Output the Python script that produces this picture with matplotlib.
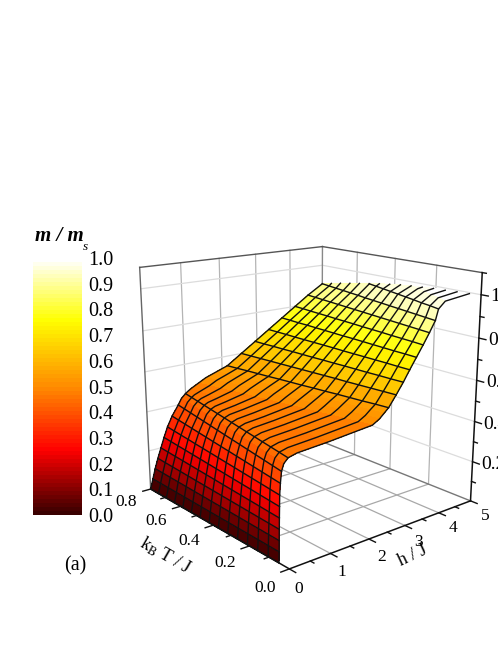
import numpy as np
import matplotlib
matplotlib.use('Agg')
import matplotlib.pyplot as plt
from matplotlib.colors import LinearSegmentedColormap

plt.rcParams['font.family'] = ['Liberation Serif', 'DejaVu Serif']
plt.rcParams['mathtext.fontset'] = 'stix'

# reduced temperature of every curve on the surface
temps = [0.05, 0.104, 0.157, 0.211, 0.264, 0.318, 0.371, 0.425, 0.479, 0.532, 0.586, 0.639, 0.693, 0.746, 0.8]
# m / m_s reached where a curve meets h = 5
m_top = [0.995, 0.993, 0.99, 0.988, 0.984, 0.98, 0.975, 0.968, 0.96, 0.951, 0.942, 0.933, 0.923, 0.912, 0.90]
# m / m_s levels of the table columns
m_levels = [0.0, 0.05, 0.1, 0.15, 0.2, 0.25, 0.3, 0.35, 0.4, 0.43, 0.45, 0.46, 0.47, 0.49, 0.51, 0.53,
            0.55, 0.6, 0.65, 0.7, 0.75, 0.8, 0.85, 0.9, 0.95, 0.98, 1.0]
# h / J where each temperature (row) reaches each level (column)
h_table = [
    [0, .004, .009, .014, .019, .025, .031, .049, .078, .131, .231, .442, 1.2, 2.33, 2.52, 2.64, 2.76, 2.96, 3.15, 3.32, 3.50, 3.68, 3.85, 4.01, 4.09, 4.28, 5],
    [0, .009, .018, .029, .04, .052, .065, .091, .13, .185, .287, .487, 1.19, 2.26, 2.45, 2.58, 2.72, 2.93, 3.13, 3.32, 3.52, 3.72, 3.90, 4.08, 4.20, 4.43, 5],
    [0, .014, .027, .043, .061, .078, .098, .132, .181, .239, .341, .531, 1.19, 2.19, 2.38, 2.53, 2.67, 2.90, 3.12, 3.33, 3.53, 3.75, 3.95, 4.15, 4.29, 4.57, 5],
    [0, .018, .037, .058, .082, .106, .132, .174, .233, .294, .396, .577, 1.19, 2.12, 2.31, 2.47, 2.63, 2.87, 3.10, 3.33, 3.55, 3.78, 4.0, 4.22, 4.40, 4.71, 5],
    [0, .023, .046, .073, .102, .132, .165, .215, .284, .347, .451, .621, 1.18, 2.05, 2.24, 2.41, 2.59, 2.84, 3.09, 3.33, 3.57, 3.82, 4.05, 4.29, 4.50, 4.86, 5],
    [0, .028, .056, .087, .123, .159, .199, .256, .336, .402, .506, .666, 1.18, 1.98, 2.17, 2.36, 2.54, 2.82, 3.08, 3.33, 3.59, 3.85, 4.10, 4.36, 4.60, 5, 5],
    [0, .032, .065, .102, .144, .186, .232, .298, .387, .456, .56, .711, 1.18, 1.91, 2.10, 2.30, 2.50, 2.79, 3.06, 3.33, 3.61, 3.88, 4.15, 4.43, 4.70, 5, 5],
    [0, .037, .074, .117, .165, .212, .266, .339, .439, .51, .615, .756, 1.17, 1.84, 2.03, 2.24, 2.45, 2.76, 3.05, 3.34, 3.62, 3.92, 4.20, 4.50, 4.80, 5, 5],
    [0, .042, .084, .132, .186, .24, .30, .381, .491, .565, .671, .801, 1.17, 1.77, 1.96, 2.19, 2.41, 2.73, 3.03, 3.34, 3.64, 3.95, 4.25, 4.57, 4.90, 5, 5],
    [0, .047, .093, .146, .206, .266, .333, .422, .542, .619, .725, .846, 1.17, 1.70, 1.90, 2.13, 2.37, 2.70, 3.02, 3.34, 3.66, 3.98, 4.30, 4.65, 5, 5, 5],
    [0, .051, .103, .161, .227, .293, .366, .464, .594, .673, .781, .891, 1.16, 1.63, 1.83, 2.07, 2.32, 2.67, 3.01, 3.34, 3.68, 4.02, 4.35, 4.72, 5, 5, 5],
    [0, .056, .112, .176, .248, .32, .40, .505, .645, .727, .835, .935, 1.16, 1.56, 1.76, 2.02, 2.28, 2.64, 2.99, 3.34, 3.70, 4.05, 4.40, 4.79, 5, 5, 5],
    [0, .061, .121, .191, .268, .346, .433, .547, .697, .781, .89, .98, 1.16, 1.49, 1.69, 1.96, 2.24, 2.61, 2.98, 3.35, 3.71, 4.08, 4.45, 4.86, 5, 5, 5],
    [0, .065, .131, .205, .289, .373, .466, .588, .748, .835, .945, 1.02, 1.15, 1.42, 1.62, 1.91, 2.19, 2.58, 2.96, 3.35, 3.73, 4.12, 4.50, 4.93, 5, 5, 5],
    [0, .07, .14, .22, .31, .4, .5, .63, .8, .89, 1.0, 1.07, 1.15, 1.35, 1.55, 1.85, 2.15, 2.55, 2.95, 3.35, 3.75, 4.15, 4.55, 5, 5, 5, 5],
]

h_ticks = [0, 1, 2, 3, 4, 5]
T_ticks = [0.0, 0.2, 0.4, 0.6, 0.8]
z_ticks = [0.2, 0.4, 0.6, 0.8, 1.0]
cbar_ticks = [0.0, 0.1, 0.2, 0.3, 0.4, 0.5, 0.6, 0.7, 0.8, 0.9, 1.0]

Z_MAX = 1.1

cmap = LinearSegmentedColormap.from_list(
    'mag', [(0.0, '#3a0000'), (0.25, '#ff0000'), (0.5, '#ff8c00'), (0.76, '#ffff00'), (1.0, '#ffffff')], N=64)

fig = plt.figure(figsize=(4.98, 6.45), dpi=100)

# surface, camera values come from a fit against the box corners
ax = fig.add_axes([0.1052, -0.1093, 1.0, 1.0], projection='3d', computed_zorder=False)
ax.set_proj_type('persp', focal_length=0.352)
ax.view_init(elev=16.15, azim=-129.47)
ax.set_box_aspect((1, 0.997, 0.994), zoom=0.792)
ax.set_xlim(0, 5)
ax.set_ylim(0, 0.8)
ax.set_zlim(0, Z_MAX)
ax.set_axis_off()

H = np.array(h_table, dtype=float)
T = np.tile(np.array(temps)[:, None], (1, H.shape[1]))
M = np.minimum(np.array(m_levels)[None, :], np.array(m_top)[:, None])

fc = np.zeros(M.shape + (4,))
mid = (M[:-1, :-1] + M[1:, :-1] + M[:-1, 1:] + M[1:, 1:]) / 4
fc[:-1, :-1] = cmap(mid)
ax.plot_surface(H, T, M, facecolors=fc, rstride=1, cstride=1, shade=False,
                linewidth=0.3, edgecolor='none', antialiased=False, zorder=3)

# curves of constant T
for i in range(H.shape[0]):
    ax.plot(H[i], T[i], M[i], color='#111111', lw=1.0, zorder=4)
# curves of constant m
for j, lev in enumerate(m_levels):
    if abs(lev * 20 - round(lev * 20)) > 1e-6 or lev == 0.5:
        continue
    keep = np.array(m_top) >= lev
    ax.plot(H[keep, j], T[keep, j], M[keep, j], color='#111111', lw=1.0, zorder=4)

# grid on the floor and the two back walls
for h in h_ticks[1:-1]:
    ax.plot([h, h], [0, 0.8], [0, 0], color='#a8a8a8', lw=0.9, zorder=1)
    ax.plot([h, h], [0.8, 0.8], [0, Z_MAX], color='#b4b4b4', lw=0.9, zorder=1)
for t in T_ticks[1:-1]:
    ax.plot([0, 5], [t, t], [0, 0], color='#a8a8a8', lw=0.9, zorder=1)
    ax.plot([5, 5], [t, t], [0, Z_MAX], color='#b4b4b4', lw=0.9, zorder=1)
for z in z_ticks:
    ax.plot([0, 5], [0.8, 0.8], [z, z], color='#dcdcdc', lw=0.9, zorder=1)
    ax.plot([5, 5], [0.8, 0], [z, z], color='#dcdcdc', lw=0.9, zorder=1)

# box edges
ax.plot([0, 5], [0.8, 0.8], [0, 0], color='#777777', lw=1.0, zorder=2)
ax.plot([5, 5], [0.8, 0], [0, 0], color='#777777', lw=1.0, zorder=2)
ax.plot([0, 0], [0.8, 0.8], [0, Z_MAX], color='#666666', lw=1.0, zorder=2)
ax.plot([5, 5], [0.8, 0.8], [0, Z_MAX], color='#888888', lw=1.0, zorder=2)
ax.plot([0, 5], [0.8, 0.8], [Z_MAX, Z_MAX], color='#555555', lw=1.0, zorder=2)
ax.plot([5, 5], [0.8, 0], [Z_MAX, Z_MAX], color='#555555', lw=1.0, zorder=2)

# axes with ticks
ax.plot([0, 5], [0, 0], [0, 0], color='#111111', lw=1.1, zorder=5)
ax.plot([0, 0], [0, 0.8], [0, 0], color='#111111', lw=1.1, zorder=5)
ax.plot([5, 5], [0, 0], [0, Z_MAX], color='#111111', lw=1.1, zorder=5)
for h in np.arange(0, 5.01, 0.5):
    dy = 0.03 if abs(h - round(h)) < 1e-6 else 0.017
    ax.plot([h, h], [0, -dy], [0, 0], color='#111111', lw=1.0, zorder=5)
for t in np.arange(0, 0.81, 0.1):
    dx = 0.2 if round(t * 10) % 2 == 0 else 0.11
    ax.plot([0, -dx], [t, t], [0, 0], color='#111111', lw=1.0, zorder=5)
for z in np.arange(0.1, 1.11, 0.1):
    dy = 0.03 if round(z * 10) % 2 == 0 else 0.017
    ax.plot([5, 5], [0, -dy], [z, z], color='#111111', lw=1.0, zorder=5)

for h in h_ticks:
    ax.text(h - 0.35, -0.115, 0, str(h), fontsize=12.5, rotation=-35, ha='center', va='center')
for t in T_ticks:
    ax.text(-0.79, t - 0.05, 0, '%.1f' % t, fontsize=12.5, rotation=-32, ha='center', va='center')
for z in z_ticks:
    lab = '1' if z == 1.0 else '%.1f' % z
    ax.text(5, -0.04, z, lab, fontsize=14, ha='left', va='center')

fig.text(413 / 498, 1 - 556 / 645, 'h / J', fontsize=13, rotation=25, ha='center', va='center')
fig.text(165 / 498, 1 - 556 / 645, r'k$_{\mathrm{B}}$ T / J', fontsize=13, rotation=-30, ha='center', va='center')

# colour bar
cax = fig.add_axes([33 / 498, 1 - 515 / 645, 48 / 498, 257 / 645])
cax.imshow(np.linspace(0, 1, 64)[:, None], origin='lower', aspect='auto', cmap=cmap,
           extent=[0, 1, 0, 1], vmin=0, vmax=1, interpolation='nearest')
cax.set_xticks([])
cax.yaxis.tick_right()
cax.set_yticks(cbar_ticks)
cax.set_yticklabels(['%.1f' % v for v in cbar_ticks], fontsize=14.5)
cax.tick_params(axis='y', length=0, pad=5)
for s in cax.spines.values():
    s.set_visible(False)

fig.text(35 / 498, 1 - 236 / 645, 'm / m', fontsize=15, style='italic', weight='bold', ha='left', va='center')
fig.text(83 / 498, 1 - 247 / 645, 's', fontsize=9.5, style='italic', ha='left', va='center')
fig.text(75 / 498, 1 - 566 / 645, '(a)', fontsize=14.5, ha='center', va='center')

fig.savefig('out.png', dpi=100)
